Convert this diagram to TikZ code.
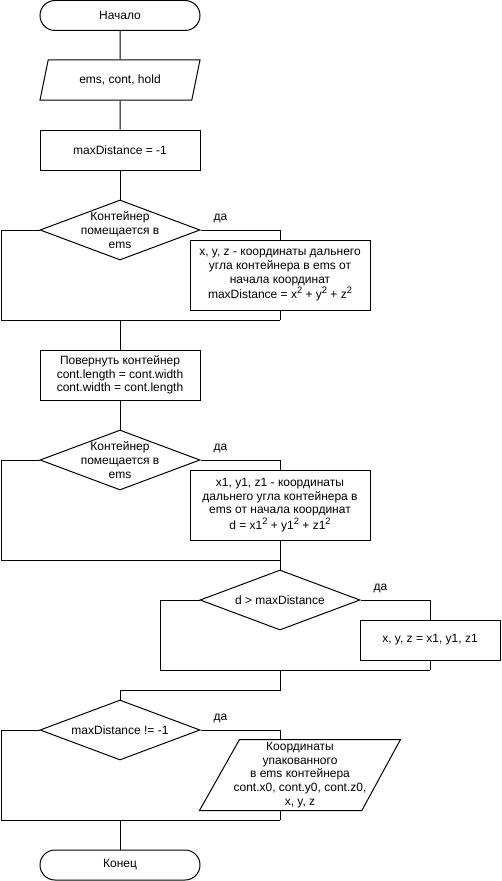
\documentclass[tikz,border=0pt]{standalone}
\usepackage{fontspec}
\setmainfont{Liberation Sans}
\usetikzlibrary{shapes.geometric}
\newcommand{\sq}{\raisebox{0.42em}{\fontsize{7}{7}\selectfont 2}}
\begin{document}
\begin{tikzpicture}[x=0.75pt,y=-0.75pt, line width=0.75pt,
  every node/.style={font=\fontsize{9}{10.3}\selectfont, align=center},
  term/.style={draw, rectangle, rounded corners=11.25pt, minimum width=120pt, minimum height=22.5pt, inner sep=0pt},
  proc/.style={draw, rectangle, inner sep=0pt},
  dec/.style={draw, diamond, minimum width=120pt, minimum height=45pt, inner sep=0pt},
  io/.style={draw, trapezium, trapezium stretches body, inner sep=0pt},
  lbl/.style={inner sep=0pt, anchor=base, yshift=7.5pt}]
\useasboundingbox (0,0) rectangle (501,881);

\node[term] (s) at (120,15.5) {Начало};
\node[io, trapezium left angle=51.3, trapezium right angle=128.7, minimum width=120pt, minimum height=30pt] (p1) at (120,80) {ems, cont, hold};
\node[proc, minimum width=120pt, minimum height=30pt] (r1) at (120,150) {maxDistance = -1};
\node[dec, label={center:{Контейнер\\помещается в\\ems}}] (d1) at (120,230) {};
\node[proc, minimum width=135pt, minimum height=52.5pt] (b1) at (280,275) {x, y, z - координаты дальнего\\угла контейнера в ems от\\начала координат\\maxDistance = x\sq{} + y\sq{} + z\sq};
\node[proc, minimum width=120pt, minimum height=37.5pt] (r2) at (120,375) {Повернуть контейнер\\cont.length = cont.width\\cont.width = cont.length};
\node[dec, label={center:{Контейнер\\помещается в\\ems}}] (d2) at (120,460) {};
\node[proc, minimum width=135pt, minimum height=52.5pt] (b2) at (280,505) {x1, y1, z1 - координаты\\дальнего угла контейнера в\\ems от начала координат\\d = x1\sq{} + y1\sq{} + z1\sq};
\node[dec, label={center:{d > maxDistance}}] (d3) at (280,600) {};
\node[proc, minimum width=105pt, minimum height=30pt] (b3) at (430,640) {x, y, z = x1, y1, z1};
\node[dec, label={center:{maxDistance != -1}}] (d4) at (120,730) {};
\node[inner sep=0pt, minimum width=150pt, minimum height=52.5pt] (p2) at (300,775) {Координаты\\упакованного\\в ems контейнера\\cont.x0, cont.y0, cont.z0,\\x, y, z};
\draw ([xshift=30pt]p2.north west) -- (p2.north east) -- ([xshift=-29pt]p2.south east) -- (p2.south west) -- cycle;
\node[term] (e) at (120,865) {Конец};

\coordinate (L) at (1,0);
\coordinate (L3) at (160,0);
\coordinate (j1) at (280,320);
\coordinate (j2) at (280,560);
\coordinate (j3) at (430,670);
\coordinate (k4) at (280,730);
\coordinate (j4) at (280,820);

\draw (s) -- (p1);
\draw (p1) -- (r1);
\draw (r1) -- (d1);

\draw (d1.east) -- node[lbl, pos=0.25] {да} (d1.east -| b1.north) -- (b1.north);
\draw (b1.south) -- (j1);
\draw (d1.west) -- (d1.west -| L) -- (j1 -| L) -- (j1);
\draw (j1 -| r2.north) -- (r2.north);

\draw (r2) -- (d2);
\draw (d2.east) -- node[lbl, pos=0.25] {да} (d2.east -| b2.north) -- (b2.north);
\draw (b2.south) -- (j2);
\draw (d2.west) -- (d2.west -| L) -- (j2 -| L) -- (j2);
\draw (j2) -- (d3.north);

\draw (d3.east) -- node[lbl, pos=0.286] {да} (d3.east -| b3.north) -- (b3.north);
\draw (b3.south) -- (j3);
\draw (d3.west) -- (d3.west -| L3) -- (j3 -| L3) -- (j3);
\draw (j3 -| d3.south) -- ++(0,20) -| (d4.north);

\draw (d4.east) -- node[lbl, pos=0.25] {да} (k4) -- (k4 |- p2.north);
\draw (k4 |- p2.south) -- (j4);
\draw (d4.west) -- (d4.west -| L) -- (j4 -| L) -- (j4);
\draw (j4 -| e.north) -- (e.north);
\end{tikzpicture}
\end{document}
